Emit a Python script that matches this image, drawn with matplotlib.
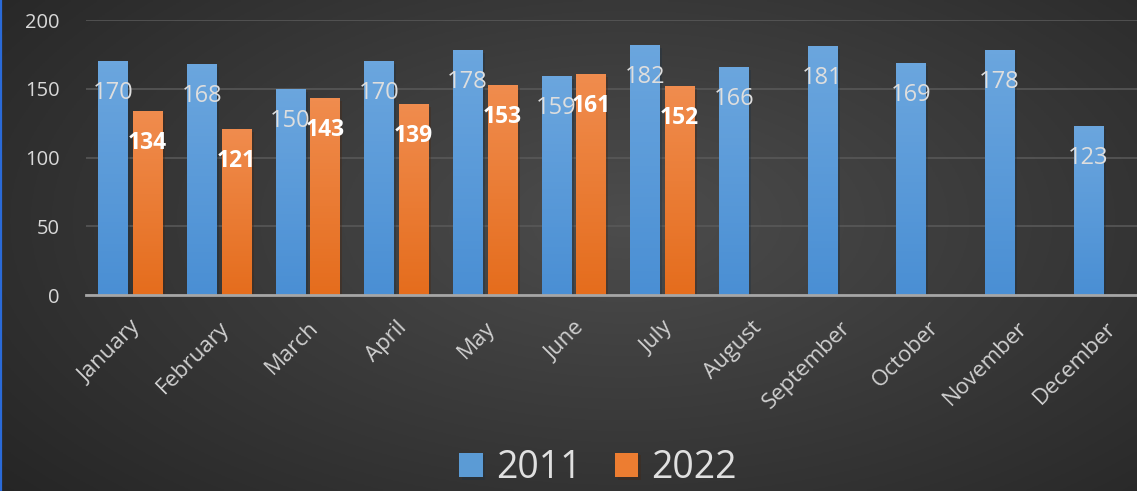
import numpy as np
import matplotlib
matplotlib.use("Agg")
import matplotlib.pyplot as plt
import matplotlib.patheffects as pe
from matplotlib.colors import LinearSegmentedColormap
from matplotlib.lines import Line2D

# monthly values
months = ["January", "February", "March", "April", "May", "June", "July",
          "August", "September", "October", "November", "December"]
values_2011 = [170, 168, 150, 170, 178, 159, 182, 166, 181, 169, 178, 123]
values_2022 = [134, 121, 143, 139, 153, 161, 152]
series_names = ["2011", "2022"]

plt.rcParams['font.family'] = ['Open Sans', 'DejaVu Sans']

fig = plt.figure(figsize=(11.37, 4.91), dpi=100)

# dark radial gradient background
bg = fig.add_axes([0, 0, 1, 1], zorder=-10)
gx, gy = np.meshgrid(np.linspace(0, 1, 400), np.linspace(0, 1, 200))
r = np.sqrt(((gx - 0.55) / 0.75) ** 2 + ((gy - 0.55) / 0.9) ** 2)
shade = np.clip(0.30 - 0.16 * r, 0.14, 0.30)
bg.imshow(np.dstack([shade] * 3), extent=[0, 1, 0, 1], aspect='auto',
          origin='lower')
bg.axis('off')

# thin blue border on the left edge
fig.add_artist(Line2D([0.001, 0.001], [0, 1], color='#2a6ad8', lw=1.6,
                      transform=fig.transFigure))

ax = fig.add_axes([0.0756, 0.399, 0.9358, 0.56])
ax.set_facecolor('none')

x = np.arange(len(months))
width = 0.33
off = 0.195
shadow = [pe.SimplePatchShadow(offset=(2, -2), alpha=0.35), pe.Normal()]

b1 = ax.bar(x - off, values_2011, width, color='#5b9bd5', zorder=3,
            label=series_names[0], path_effects=shadow)
b2 = ax.bar(x[:len(values_2022)] + off, values_2022, width, color='#ed7d31',
            zorder=3, label=series_names[1], path_effects=shadow)


def shade_bars(bars, top, bottom):
    # vertical gradient fill, clipped to each bar
    cmap = LinearSegmentedColormap.from_list('g', [bottom, top])
    grad = np.linspace(0, 1, 64).reshape(-1, 1)
    for p in bars:
        x0, y0 = p.get_x(), p.get_y()
        im = ax.imshow(grad, cmap=cmap, origin='lower', aspect='auto',
                       extent=[x0, x0 + p.get_width(), y0, y0 + p.get_height()],
                       zorder=3.5)
        im.set_clip_path(p)


shade_bars(b1, '#6ba6de', '#4a8fd4')
shade_bars(b2, '#f08c4e', '#e56d1d')

for xi, v in zip(x - off, values_2011):
    ax.annotate(str(v), (xi, v), xytext=(0, -23), textcoords='offset points',
                ha='center', va='center', fontsize=17, color='#dedede',
                zorder=5)
for xi, v in zip(x[:len(values_2022)] + off, values_2022):
    ax.annotate(str(v), (xi, v), xytext=(0, -23), textcoords='offset points',
                ha='center', va='center', fontsize=16.5, color='white',
                fontweight='bold', zorder=5)

ax.set_xlim(-0.5, len(months) - 0.5)
ax.set_ylim(0, 200)
ax.set_yticks([0, 50, 100, 150, 200])
ax.grid(axis='y', color='#5a5a5a', lw=1.1, zorder=0)
ax.set_axisbelow(True)

for s in ['top', 'right', 'left']:
    ax.spines[s].set_visible(False)
ax.spines['bottom'].set_color('#a6a6a6')
ax.spines['bottom'].set_linewidth(2)
ax.spines['bottom'].set_zorder(6)

ax.tick_params(axis='both', length=0)
ax.tick_params(axis='y', labelsize=14.5, labelcolor='#d9d9d9', pad=19)
ax.set_xticks(x)
ax.set_xticklabels(months, rotation=45, ha='right', rotation_mode='anchor',
                   fontsize=16, color='#d0d0d0')
ax.tick_params(axis='x', pad=16)

leg = fig.legend(handles=[b1, b2], loc='center', bbox_to_anchor=(0.526, 0.047),
                 ncol=2, frameon=False, fontsize=27, labelcolor='#e0e0e0',
                 handlelength=0.62, handleheight=0.62, handletextpad=0.35,
                 columnspacing=0.9)

fig.savefig("out.png", dpi=100)
